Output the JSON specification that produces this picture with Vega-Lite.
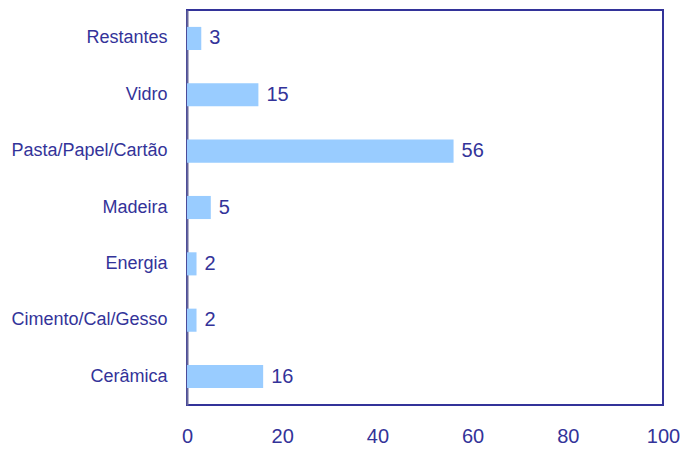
{
  "$schema": "https://vega.github.io/schema/vega-lite/v6.json",
  "width": 476,
  "height": 395,
  "autosize": {"type": "none"},
  "padding": {"left": 187, "top": 10, "right": 19, "bottom": 45},
  "background": "white",
  "config": {
    "view": {"stroke": "#333399", "strokeWidth": 2},
    "font": "Liberation Sans",
    "axis": {"labelFont": "Liberation Sans", "labelColor": "#333399", "ticks": false, "grid": false, "title": null}
  },
  "data": {
    "values": [
      {"categoria": "Restantes", "valor": 3},
      {"categoria": "Vidro", "valor": 15},
      {"categoria": "Pasta/Papel/Cartão", "valor": 56},
      {"categoria": "Madeira", "valor": 5},
      {"categoria": "Energia", "valor": 2},
      {"categoria": "Cimento/Cal/Gesso", "valor": 2},
      {"categoria": "Cerâmica", "valor": 16}
    ]
  },
  "encoding": {
    "y": {
      "field": "categoria", "type": "nominal", "sort": null,
      "scale": {"paddingInner": 0.59, "paddingOuter": 0.3},
      "axis": {"labelPadding": 20, "labelFontSize": 18, "domainColor": "#666699", "domainWidth": 2}
    },
    "x": {
      "field": "valor", "type": "quantitative",
      "scale": {"domain": [0, 100], "nice": false},
      "axis": {"values": [0, 20, 40, 60, 80, 100], "labelFontSize": 20, "labelPadding": 21, "domain": false, "labelFlush": false}
    }
  },
  "layer": [
    {"mark": {"type": "bar", "color": "#99CCFF"}},
    {"mark": {"type": "text", "align": "left", "dx": 8, "fontSize": 20, "color": "#333399", "font": "Liberation Sans"},
     "encoding": {"text": {"field": "valor", "type": "quantitative"}}}
  ]
}
